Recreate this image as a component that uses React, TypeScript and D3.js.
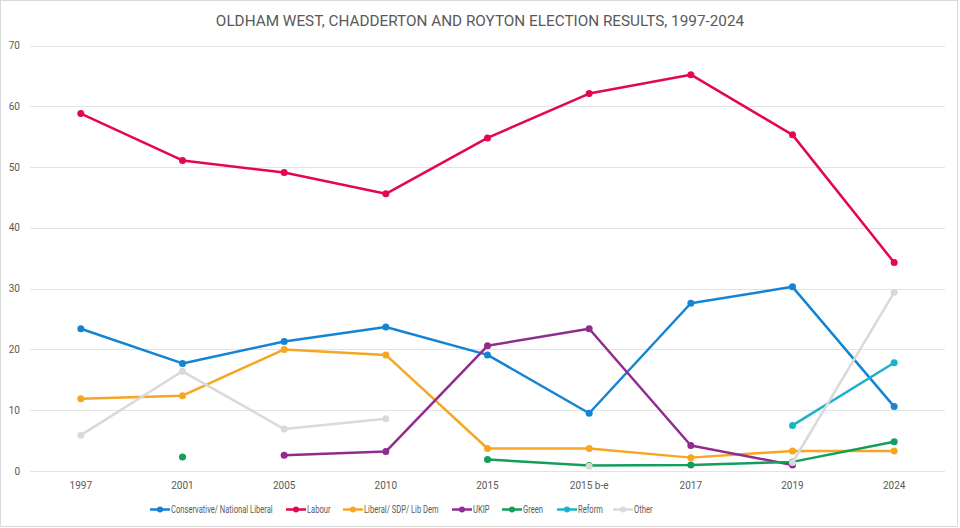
import React, { useEffect, useRef } from "react";
import * as d3 from "d3";

const categories = ["1997", "2001", "2005", "2010", "2015", "2015 b-e", "2017", "2019", "2024"];
const conservative = [23.4, 17.7, 21.3, 23.7, 19.1, 9.5, 27.6, 30.3, 10.6];
const labour = [58.8, 51.1, 49.1, 45.6, 54.8, 62.1, 65.2, 55.3, 34.3];
const libdem = [11.9, 12.4, 20.0, 19.1, 3.7, 3.7, 2.2, 3.3, 3.3];
const ukip = [null, null, 2.6, 3.2, 20.6, 23.4, 4.2, 1.0, null];
const green = [null, 2.3, null, null, 1.9, 0.9, 1.0, 1.5, 4.8];
const reform = [null, null, null, null, null, null, null, 7.5, 17.8];
const other = [5.9, 16.4, 6.9, 8.6, null, 0.8, null, 1.4, 29.4];
const yTicks = [0, 10, 20, 30, 40, 50, 60, 70];
const title = "OLDHAM WEST, CHADDERTON AND ROYTON ELECTION RESULTS, 1997-2024";

const series = [
  { name: "Conservative/ National Liberal", values: conservative, color: "#1384D4" },
  { name: "Labour", values: labour, color: "#E3084C" },
  { name: "Liberal/ SDP/ Lib  Dem", values: libdem, color: "#F7A623" },
  { name: "UKIP", values: ukip, color: "#902C8E" },
  { name: "Green", values: green, color: "#129E5B" },
  { name: "Reform", values: reform, color: "#1AB3CB" },
  { name: "Other", values: other, color: "#D9D9D9" },
];

const W = 960;
const H = 528;
const FONT = "Roboto, 'Noto Sans', sans-serif";

export default function App() {
  const ref = useRef<SVGSVGElement | null>(null);

  useEffect(() => {
    const svg = d3.select(ref.current);
    svg.selectAll("*").remove();

    svg.append("rect").attr("x", 0.5).attr("y", 0.5).attr("width", W - 3).attr("height", H - 2)
      .attr("fill", "#fff").attr("stroke", "#d9d9d9");

    const x = d3.scalePoint<string>().domain(categories).range([30, 945]).padding(0.5);
    const y = d3.scaleLinear().domain([0, 70]).range([471, 45.5]);

    // title
    svg.append("text").attr("x", 480).attr("y", 26).attr("text-anchor", "middle")
      .attr("font-family", FONT).attr("font-size", 15.3).attr("fill", "#595959").text(title);

    // gridlines
    const g = svg.append("g");
    g.selectAll("line.grid").data(yTicks).join("line")
      .attr("x1", 30).attr("x2", 945)
      .attr("y1", (d) => Math.round(y(d)) + 0.5).attr("y2", (d) => Math.round(y(d)) + 0.5)
      .attr("stroke", "#e3e3e3").attr("stroke-width", 1);

    // y labels
    g.selectAll("text.ylab").data(yTicks).join("text")
      .attr("x", 20).attr("y", (d) => y(d)).attr("dy", "0.35em").attr("text-anchor", "end")
      .attr("font-family", FONT).attr("font-size", 10).attr("fill", "#595959").text((d) => d);

    // x labels
    g.selectAll("text.xlab").data(categories).join("text")
      .attr("x", (d) => x(d)!).attr("y", 485).attr("dy", "0.35em").attr("text-anchor", "middle")
      .attr("font-family", FONT).attr("font-size", 10).attr("fill", "#595959").text((d) => d);

    // series
    series.forEach((s) => {
      const pts = s.values.map((v, i) => ({ c: categories[i], v }));
      const line = d3.line<{ c: string; v: number | null }>()
        .defined((d) => d.v != null)
        .x((d) => x(d.c)!)
        .y((d) => y(d.v as number));
      svg.append("path").datum(pts).attr("d", line).attr("fill", "none")
        .attr("stroke", s.color).attr("stroke-width", 2.5).attr("stroke-linejoin", "round").attr("stroke-linecap", "round");
      svg.append("g").selectAll("circle").data(pts.filter((d) => d.v != null)).join("circle")
        .attr("cx", (d) => x(d.c)!).attr("cy", (d) => y(d.v as number)).attr("r", 3.5)
        .attr("fill", s.color);
    });

    // legend
    const legendStarts = [150, 286, 343, 452, 502, 557, 613];
    const lg = svg.append("g");
    series.forEach((s, i) => {
      const lx = legendStarts[i];
      const ly = 509.5;
      lg.append("line").attr("x1", lx).attr("x2", lx + 20).attr("y1", ly).attr("y2", ly)
        .attr("stroke", s.color).attr("stroke-width", 2.5);
      lg.append("circle").attr("cx", lx + 10).attr("cy", ly).attr("r", 3).attr("fill", s.color);
      lg.append("text").attr("transform", `translate(${lx + 21},${ly}) scale(0.76,1)`)
        .attr("dy", "0.35em")
        .attr("font-family", FONT).attr("font-size", 10).attr("fill", "#595959").text(s.name);
    });
  }, []);

  return (
    <svg ref={ref} width={W} height={H}
      style={{ position: "absolute", left: 0, top: 0, background: "#fff" }} />
  );
}
